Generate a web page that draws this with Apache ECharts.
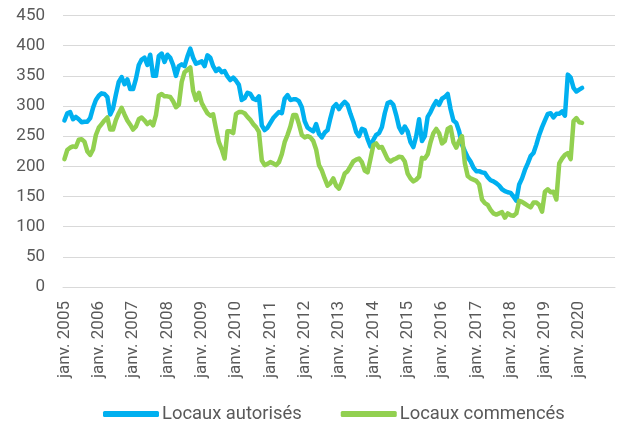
<!DOCTYPE html>
<html>
<head>
<meta charset="utf-8">
<script src="https://cdn.jsdelivr.net/npm/echarts@6/dist/echarts.min.js"></script>
<style>
html,body{margin:0;padding:0;background:#fff;}
#chart{width:627px;height:422px;}
</style>
</head>
<body>
<div id="chart"></div>
<script>
// Month names and years used for the category axis (Jan 2005 .. Jan 2021)
const monthNames = ['janv.','févr.','mars','avr.','mai','juin','juil.','août','sept.','oct.','nov.','déc.'];
const years = [2005,2006,2007,2008,2009,2010,2011,2012,2013,2014,2015,2016,2017,2018,2019,2020,2021];
const yTicks = [0,50,100,150,200,250,300,350,400,450];

// Locaux autorisés (monthly, Jan 2005 .. Feb 2020)
const autorises = [
276,288,290,278,282,278,273,274,274,280,297,310,
317,321,320,315,286,296,319,340,348,336,344,328,
328,345,368,377,380,368,385,350,350,383,387,373,
385,380,368,350,366,369,366,382,395,380,370,372,
374,366,384,380,366,358,362,356,358,349,343,347,
342,335,310,313,322,320,312,310,316,268,260,264,
272,280,285,290,288,312,318,310,311,311,308,298,
275,264,261,258,270,254,248,256,260,280,298,303,
295,302,307,302,287,274,257,250,262,260,245,233,
244,252,255,265,288,305,307,302,285,265,256,266,
258,240,232,250,278,242,250,282,290,300,308,302,
312,315,320,295,276,272,258,236,225,215,208,198,
192,192,190,189,182,177,175,172,168,162,159,157,
156,150,143,170,180,194,205,217,222,236,252,265,
276,287,288,281,287,287,291,284,352,347,330,324,
327,330
];

// Locaux commencés (monthly, Jan 2005 .. Feb 2020)
const commences = [
212,227,231,233,232,244,245,241,225,219,228,252,
264,270,276,281,261,261,277,288,297,286,276,269,
261,266,278,281,276,270,274,268,285,317,320,316,
316,315,308,298,302,340,356,360,364,325,310,322,
305,296,288,284,286,262,240,228,213,258,258,255,
287,290,290,288,282,277,270,265,257,210,202,204,
207,205,202,207,220,240,252,266,285,285,270,252,
248,250,248,242,228,202,193,180,168,172,180,168,
163,174,188,192,200,208,211,213,207,193,190,212,
235,238,231,232,222,212,208,211,213,216,215,208,
188,180,175,178,183,214,213,220,240,255,262,255,
238,242,262,265,240,231,242,250,205,184,180,178,
176,170,145,139,136,128,122,120,122,124,115,122,
119,118,122,143,141,138,135,132,140,140,136,125,
158,162,157,158,145,205,213,219,222,212,275,280,
273,272
];

const categories = [];
years.forEach(y => monthNames.forEach(m => categories.push(m + ' ' + y)));
categories.length = 193; // Jan 2005 .. Jan 2021

const chart = echarts.init(document.getElementById('chart'), null, {renderer: 'canvas'});
const textColor = '#595959';
const font = 'Roboto';

chart.setOption({
  animation: false,
  backgroundColor: '#ffffff',
  textStyle: {fontFamily: font},
  grid: {left: 63, right: 12, top: 15.5, bottom: 135},
  xAxis: {
    type: 'category',
    data: categories,
    boundaryGap: true,
    axisLine: {show: true, lineStyle: {color: '#d9d9d9', width: 1}},
    axisTick: {show: false},
    axisLabel: {
      rotate: 90,
      margin: 14,
      color: textColor,
      fontFamily: font,
      fontSize: 17,
      interval: (idx) => idx % 12 === 0 && idx <= 180,
      formatter: (v) => v
    },
    splitLine: {show: false}
  },
  yAxis: {
    type: 'value',
    min: yTicks[0],
    max: yTicks[yTicks.length - 1],
    interval: 50,
    axisLine: {show: false},
    axisTick: {show: false},
    axisLabel: {color: textColor, fontFamily: font, fontSize: 17, margin: 18},
    splitLine: {lineStyle: {color: '#d9d9d9', width: 1}}
  },
  legend: {
    top: 400,
    left: 98,
    itemWidth: 56,
    itemHeight: 6,
    itemGap: 39,
    icon: 'roundRect',
    textStyle: {color: textColor, fontFamily: font, fontSize: 18.4, padding: [0, 0, 0, -2]},
    data: ['Locaux autorisés', 'Locaux commencés']
  },
  series: [
    {
      name: 'Locaux autorisés',
      type: 'line',
      data: autorises,
      showSymbol: false,
      symbol: 'none',
      smooth: false,
      itemStyle: {color: '#00B0F0'},
      lineStyle: {color: '#00B0F0', width: 4.5, cap: 'round', join: 'round'}
    },
    {
      name: 'Locaux commencés',
      type: 'line',
      data: commences,
      showSymbol: false,
      symbol: 'none',
      smooth: false,
      itemStyle: {color: '#92D050'},
      lineStyle: {color: '#92D050', width: 4.5, cap: 'round', join: 'round'}
    }
  ]
});
</script>
</body>
</html>
